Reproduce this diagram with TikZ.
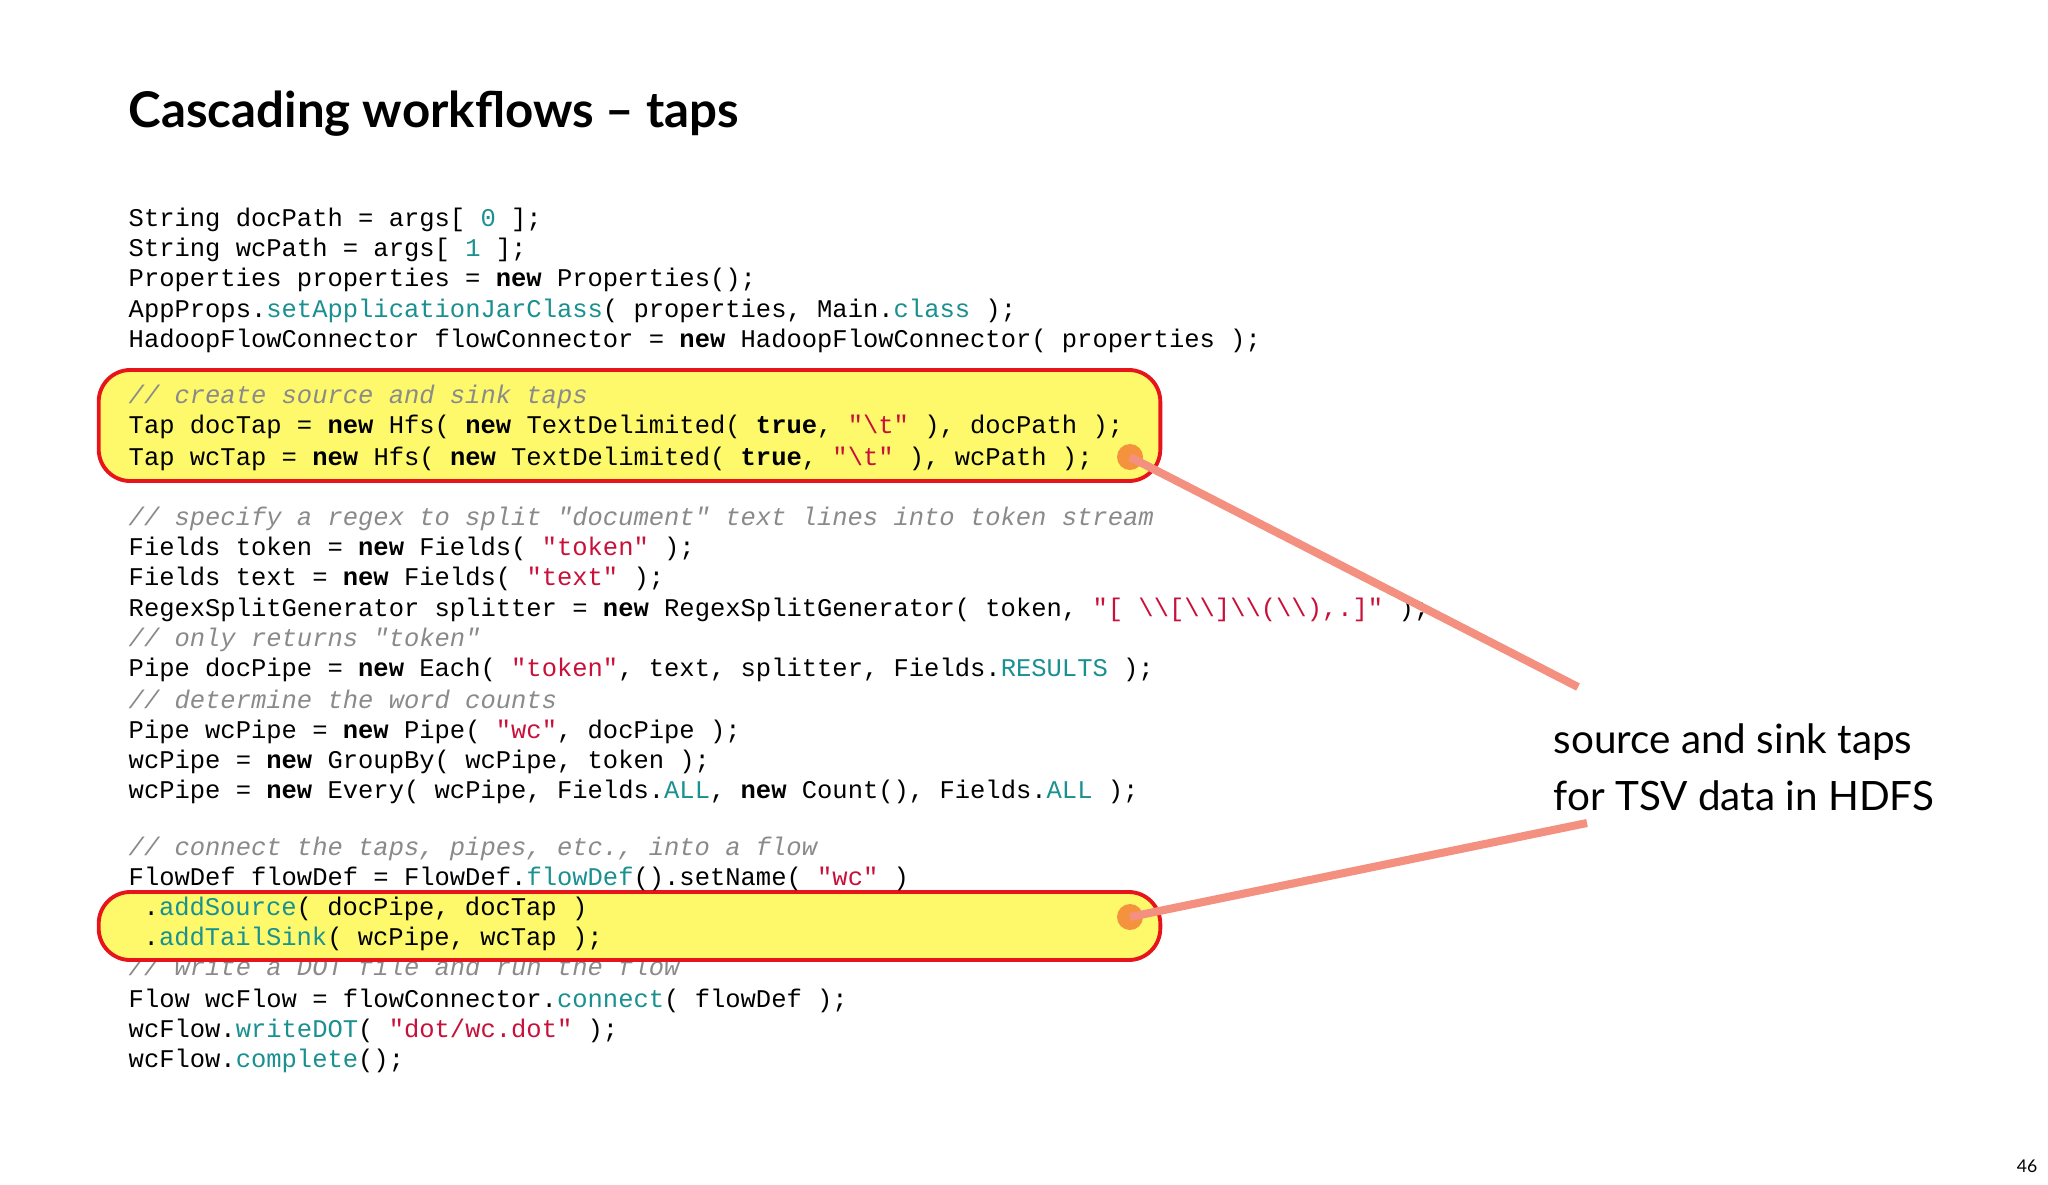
\documentclass[tikz,border=0pt]{standalone}
\usepackage{fontspec}
\setmainfont{Lato}
\newfontfamily\codefont{Liberation Mono}
\usetikzlibrary{positioning}
\definecolor{kwteal}{HTML}{1A9090}
\definecolor{strred}{HTML}{C8103A}
\definecolor{cmgray}{HTML}{8A8A8A}
\definecolor{boxyellow}{HTML}{FDF96B}
\definecolor{boxred}{HTML}{E8141C}
\definecolor{dotorange}{HTML}{F5923E}
\definecolor{linesalmon}{HTML}{F4907F}
\newcommand{\kw}[1]{\textbf{#1}}
\newcommand{\tl}[1]{\textcolor{kwteal}{#1}}
\newcommand{\st}[1]{\textcolor{strred}{#1}}
\newcommand{\cm}[1]{\textcolor{cmgray}{\itshape #1}}
\newcommand{\bs}{\textbackslash}
\begin{document}
\begin{tikzpicture}[
    x=0.01cm, y=-0.01cm,
    code/.style={anchor=base west, inner sep=0pt, font=\codefont\fontsize{7.25pt}{8.6pt}\selectfont},
    hibox/.style={draw=boxred, line width=1.1pt, fill=boxyellow, rounded corners=9pt, inner sep=0pt},
    dot/.style={circle, fill=dotorange, minimum size=0.26cm, inner sep=0pt},
    pointer/.style={linesalmon, line width=2.3pt}
  ]
  \useasboundingbox (0,0) rectangle (2048,1184);

  % title
  \node[anchor=base west, inner sep=0pt, font=\bfseries\fontsize{14pt}{16pt}\selectfont] (title) at (128,127) {Cascading workflows -- taps};

  % comment that the lower box covers
  \node[code] (l22) at (128,975) {\cm{// write a DOT file and run the flow}};

  % highlight boxes
  \node[hibox, minimum width=10.61cm, minimum height=1.11cm] (box1) at (629.5,425.5) {};
  \node[hibox, minimum width=10.61cm, minimum height=0.68cm] (box2) at (629.5,926) {};

  % code lines
  \node[code] (l1) at (128,226) {String docPath = args[ \tl{0} ];};
  \node[code] (l2) at (128,256) {String wcPath = args[ \tl{1} ];};
  \node[code] (l3) at (128,286) {Properties properties = \kw{new} Properties();};
  \node[code] (l4) at (128,317) {AppProps.\tl{setApplicationJarClass}( properties, Main.\tl{class} );};
  \node[code] (l5) at (128,347) {HadoopFlowConnector flowConnector = \kw{new} HadoopFlowConnector( properties );};
  \node[code] (l6) at (128,403) {\cm{// create source and sink taps}};
  \node[code] (l7) at (128,433) {Tap docTap = \kw{new} Hfs( \kw{new} TextDelimited( \kw{true}, \st{"\bs t"} ), docPath );};
  \node[code] (l8) at (128,465) {Tap wcTap = \kw{new} Hfs( \kw{new} TextDelimited( \kw{true}, \st{"\bs t"} ), wcPath );};
  \node[code] (l9) at (128,525) {\cm{// specify a regex to split "document" text lines into token stream}};
  \node[code] (l10) at (128,555) {Fields token = \kw{new} Fields( \st{"token"} );};
  \node[code] (l11) at (128,585) {Fields text = \kw{new} Fields( \st{"text"} );};
  \node[code] (l12) at (128,616) {RegexSplitGenerator splitter = \kw{new} RegexSplitGenerator( token, \st{"[ \bs\bs[\bs\bs]\bs\bs(\bs\bs),.]"} );};
  \node[code] (l13) at (128,646) {\cm{// only returns "token"}};
  \node[code] (l14) at (128,676) {Pipe docPipe = \kw{new} Each( \st{"token"}, text, splitter, Fields.\tl{RESULTS} );};
  \node[code] (l15) at (128,708) {\cm{// determine the word counts}};
  \node[code] (l16) at (128,738) {Pipe wcPipe = \kw{new} Pipe( \st{"wc"}, docPipe );};
  \node[code] (l17) at (128,768) {wcPipe = \kw{new} GroupBy( wcPipe, token );};
  \node[code] (l18) at (128,798) {wcPipe = \kw{new} Every( wcPipe, Fields.\tl{ALL}, \kw{new} Count(), Fields.\tl{ALL} );};
  \node[code] (l19) at (128,855) {\cm{// connect the taps, pipes, etc., into a flow}};
  \node[code] (l20) at (128,885) {FlowDef flowDef = FlowDef.\tl{flowDef}().setName( \st{"wc"} )};
  \node[code] (l21) at (143,915) {.\tl{addSource}( docPipe, docTap )};
  \node[code] (l21b) at (143,945) {.\tl{addTailSink}( wcPipe, wcTap );};
  \node[code] (l23) at (128,1007) {Flow wcFlow = flowConnector.\tl{connect}( flowDef );};
  \node[code] (l24) at (128,1037) {wcFlow.\tl{writeDOT}( \st{"dot/wc.dot"} );};
  \node[code] (l25) at (128,1067) {wcFlow.\tl{complete}();};

  % callout
  \node[anchor=base west, inner sep=0pt, align=left, font=\fontsize{11.5pt}{16pt}\selectfont] (note) at (1553,810) {source and sink taps\\for TSV data in HDFS};
  \coordinate (end1) at (1578,687);
  \coordinate (end2) at (1587,823);
  \node[dot] (dot1) at (1130,457) {};
  \node[dot] (dot2) at (1130,917) {};
  \draw[pointer] (dot1.center) -- (end1);
  \draw[pointer] (dot2.center) -- (end2);

  % page number
  \node[anchor=base east, inner sep=0pt, font=\fontsize{5pt}{6pt}\selectfont] (page) at (2038,1172) {46};
\end{tikzpicture}
\end{document}
